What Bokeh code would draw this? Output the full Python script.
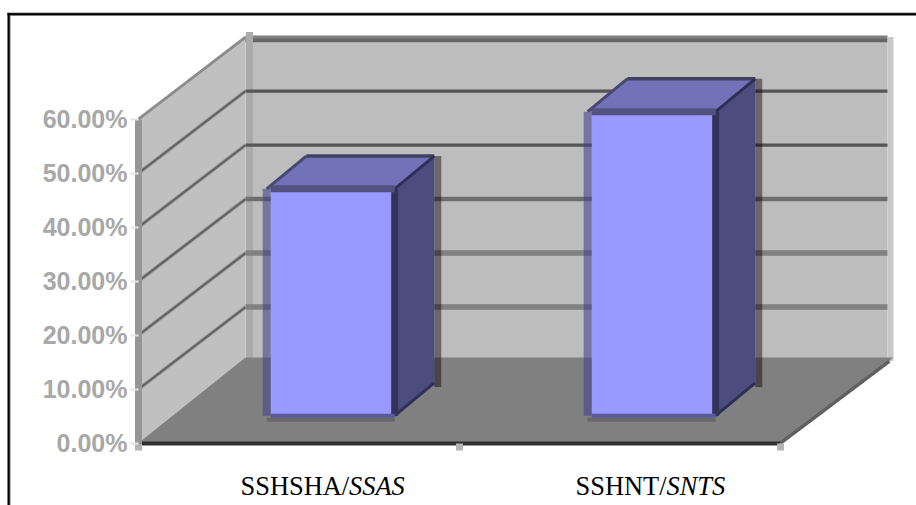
from bokeh.plotting import figure
from bokeh.models import LinearAxis, FixedTicker, NumeralTickFormatter, Range1d
from bokeh.embed import file_html
from bokeh.resources import INLINE
from bokeh.core.properties import value

# ---- data -------------------------------------------------------------
categories_roman = ["SSHSHA/", "SSHNT/"]
categories_italic = ["SSAS", "SNTS"]
bar_values = [0.42, 0.563]
y_ticks = [0.0, 0.1, 0.2, 0.3, 0.4, 0.5, 0.6]

# ---- layout constants --------------------------------------------------
W, H = 916, 505
AX_X, AX_Y = 138.0, 442.6       # page position of the axes origin
CAT_PX, VAL_PX = 321.0, 540.0   # pixels per category / per 100 %
DX, DY = 107.0 / CAT_PX, 82.0 / VAL_PX  # full depth of the chart box
D_FRONT, D_BACK = 0.31, 0.68    # depth occupied by bars
BAR_DY = 1.08                   # bars recede slightly steeper than the walls
HALF = 64.0 / CAT_PX
BAR_SHIFT = -1.5 / CAT_PX

def X(page_x):
    return (page_x - AX_X) / CAT_PX

def Y(page_y):
    return (AX_Y - page_y) / VAL_PX

def P(x, y, d=0.0):
    return (x + d * DX, y + d * DY)

def B(x, y, d):
    return (x + d * DX, y + d * DY * BAR_DY)

p = figure(width=W, height=H, output_backend="svg", toolbar_location=None,
           x_axis_location=None, y_axis_location=None,
           x_range=Range1d(X(0), X(W)),
           y_range=Range1d(Y(H), Y(0)),
           min_border=0, outline_line_color=None, background_fill_color="white",
           border_fill_color="white")
p.grid.visible = False

def poly(points, color, **kw):
    xs, ys = zip(*points)
    p.patch(list(xs), list(ys), fill_color=color, line_color=None, **kw)

def line(points, color, width, alpha=1.0):
    xs, ys = zip(*points)
    p.line(list(xs), list(ys), line_color=color, line_width=width, line_alpha=alpha, line_cap="butt")

# picture frame
line([(X(7), Y(13.8)), (X(916), Y(13.8))], "black", 2.6)
line([(X(7), Y(12.2)), (X(916), Y(12.2))], "#a0a0a0", 0.8)
line([(X(8.2), Y(12.6)), (X(8.2), Y(505))], "black", 2.4)
line([(X(9.8), Y(15)), (X(9.8), Y(505))], "#909090", 0.8)

top = y_ticks[-1]
# walls
poly([P(0, 0), P(0, top), P(0, top, 1), P(0, 0, 1)], "#c0c0c0")
poly([P(0, 0, 1), P(0, top, 1), P(2, top, 1), P(2, 0, 1)], "#bdbdbd")

# wall edges
line([P(0, top, 1), P(2, top, 1)], "#808080", 3)
line([(P(0, top, 1)[0], P(0, top, 1)[1] - 3.2 / VAL_PX),
      (P(2, top, 1)[0], P(2, top, 1)[1] - 3.2 / VAL_PX)], "#666666", 4)
line([P(0, top), P(0, top, 1)], "#8c8c8c", 3)
line([(P(0, 0, 1)[0] + 4 / CAT_PX, P(0, 0, 1)[1]), (P(0, top, 1)[0] + 4 / CAT_PX, P(0, top, 1)[1] + 5 / VAL_PX)], "#aaaaaa", 7)
line([(P(2, 0, 1)[0] + 3 / CAT_PX, P(2, 0, 1)[1]), (P(2, top, 1)[0] + 3 / CAT_PX, P(2, top, 1)[1])], "#c8c8c8", 6)

# gridlines
grid_colors = ["#000000", "#808080", "#808080", "#6e6e6e", "#555555", "#555555"]
grid_widths = [0, 5.5, 5.5, 4.5, 3.2, 3.2]
for v, c, w in zip(y_ticks[:-1], grid_colors, grid_widths):
    if v == 0:
        continue
    line([P(0, v, 1), P(2, v, 1)], c, w)
    line([P(0, v), P(0, v, 1)], "#a8a8a8", 4.2)
    line([P(0, v), P(0, v, 1)], "#636363", 2.4)

# floor
lift = 3.6 / VAL_PX
poly([P(0, 0), P(2, 0), (P(2, 0, 1)[0] + 6 / CAT_PX, P(2, 0, 1)[1] + lift),
      (P(0, 0, 1)[0], P(0, 0, 1)[1] + lift)], "#808080")
line([P(2, 0), (P(2, 0, 1)[0] + 2 / CAT_PX, P(2, 0, 1)[1])], "#606060", 3.5)

# bars
inset = 4.0 / CAT_PX
for i, v in enumerate(bar_values):
    c = i + 0.5 + BAR_SHIFT
    l, r = c - HALF, c + HALF
    # floor shadow under the bar front
    line([(B(l, 0, D_FRONT)[0], B(l, 0, D_FRONT)[1] - 4 / VAL_PX),
          (B(r, 0, D_FRONT)[0], B(r, 0, D_FRONT)[1] - 4 / VAL_PX)], "#686868", 4)
    # translucent shadow right of the side face
    sh = 3.5 / CAT_PX
    line([(B(r, v, D_BACK)[0] + sh, B(r, v, D_BACK)[1]),
          (B(r, 0, D_BACK)[0] + sh, B(r, 0, D_BACK)[1] - 4 / VAL_PX)], "#000000", 7, 0.45)
    # side
    poly([B(r, 0, D_FRONT), B(r, v, D_FRONT), B(r, v, D_BACK), B(r, 0, D_BACK)], "#4c4c7f")
    # top
    poly([B(l, v, D_FRONT), B(r, v, D_FRONT), B(r, v, D_BACK), B(l, v, D_BACK)], "#7272b8")
    # front (left border lies over the background)
    poly([B(l + inset, 0, D_FRONT), B(r, 0, D_FRONT), B(r, v, D_FRONT), B(l + inset, v, D_FRONT)], "#9999ff")
    # edges
    line([B(l, v, D_BACK), B(r, v, D_BACK)], "#404060", 3.5)
    line([B(l, v, D_FRONT), B(l, v, D_BACK)], "#47476f", 3)
    line([B(r, v, D_FRONT), B(r, v, D_BACK)], "#2f2f55", 3)
    line([B(r, 0, D_FRONT), B(r, 0, D_BACK)], "#2f2f55", 3)
    line([B(l, 0, D_FRONT), B(l, v, D_FRONT)], "#424287", 8, 0.58)
    line([B(r, 0, D_FRONT), B(r, v, D_FRONT)], "#333359", 7)
    line([B(l + inset, v, D_FRONT), B(r, v, D_FRONT)], "#52527f", 7)
    line([B(l + inset, 0, D_FRONT), B(r, 0, D_FRONT)], "#5a5a99", 4)

# axes (real scales)
yax = LinearAxis(fixed_location=0, ticker=FixedTicker(ticks=y_ticks),
                 formatter=NumeralTickFormatter(format="0.00%"), bounds=(0, 0.6))
yax.axis_line_color = "#969696"
yax.axis_line_width = 7
yax.major_tick_line_color = "#e4e4e4"
yax.major_tick_line_width = 2
yax.major_tick_in = 0
yax.major_tick_out = 8
yax.minor_tick_line_color = None
yax.major_label_standoff = 3
yax.major_label_text_font = "Liberation Sans"
yax.major_label_text_font_style = "bold"
yax.major_label_text_font_size = "25px"
yax.major_label_text_color = "#a8a8a8"
p.add_layout(yax, "left")

xax = LinearAxis(fixed_location=0, ticker=FixedTicker(ticks=[0, 1, 2]), bounds=(0, 2),
                 major_label_overrides={0: "", 1: "", 2: ""})
xax.axis_line_color = "#303030"
xax.axis_line_width = 4
xax.major_tick_line_color = "#b4b4b4"
xax.major_tick_line_width = 7
xax.major_tick_in = 0
xax.major_tick_out = 7
xax.minor_tick_line_color = None
p.add_layout(xax, "below")

# category labels: roman and italic parts meet at the slash
label_y = Y(485)
roman_x = [X(348.6), X(666.0)]
p.text(x=roman_x, y=[label_y] * 2, text=categories_roman,
       text_font=value("Liberation Serif"), text_font_size="26.4px", text_color="#000000",
       text_align="right", text_baseline="alphabetic")
p.text(x=roman_x, y=[label_y] * 2, text=categories_italic,
       text_font=value("Liberation Serif"), text_font_style="italic", text_font_size="26.4px",
       text_color="#000000", text_align="left", text_baseline="alphabetic")

open("out.html", "w").write(file_html(p, INLINE))
